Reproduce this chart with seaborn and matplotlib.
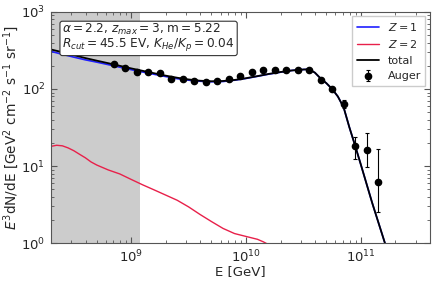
import numpy as np
import pandas as pd
import matplotlib
matplotlib.use("Agg")
import matplotlib.pyplot as plt
import seaborn as sns

# Model curves (log10 E [GeV], E^3 dN/dE)
logE_total = [8.30, 8.40, 8.50, 8.60, 8.70, 8.80, 8.90, 9.00, 9.10, 9.20, 9.30,
              9.40, 9.50, 9.60, 9.70, 9.80, 9.90, 10.00, 10.10, 10.20, 10.30,
              10.40, 10.50, 10.55, 10.60, 10.65, 10.70, 10.75, 10.80, 10.85,
              10.90, 10.95, 11.00, 11.10, 11.22]
total = [326, 300, 275, 252, 233, 216, 200, 185, 172, 160, 149,
         140, 133, 128, 126, 127, 131, 138, 147, 157, 166,
         174, 179, 180, 163, 137, 119, 100, 80, 58,
         32, 18.5, 10.5, 3.3, 0.9]
proton = [308, 282, 259, 239, 223, 207, 192, 178, 166, 155, 145,
          136, 130, 126, 124, 125, 130, 137, 146, 156, 165,
          174, 179, 180, 163, 137, 119, 100, 80, 58,
          32, 18.5, 10.5, 3.3, 0.9]

logE_he = [8.30, 8.35, 8.40, 8.45, 8.50, 8.55, 8.60, 8.65, 8.70, 8.80, 8.90,
           9.00, 9.10, 9.20, 9.30, 9.40, 9.50, 9.60, 9.70, 9.80, 9.90,
           10.00, 10.10, 10.15, 10.20, 10.25]
helium = [18.0, 18.6, 18.3, 17.2, 15.8, 14.2, 12.8, 11.3, 10.3, 8.9, 7.9,
          6.7, 5.7, 4.9, 4.2, 3.6, 2.95, 2.35, 1.9, 1.55, 1.33,
          1.22, 1.12, 1.04, 0.95, 0.7]

# Auger data points
logE_auger = [8.85, 8.95, 9.05, 9.15, 9.25, 9.35, 9.45, 9.55, 9.65, 9.75,
              9.85, 9.95, 10.05, 10.15, 10.25, 10.35, 10.45, 10.55, 10.65,
              10.75, 10.85, 10.95, 11.05, 11.15]
flux_auger = [211, 187, 166, 166, 161, 135, 135, 127, 123, 127,
              135, 148, 166, 177, 177, 177, 177, 178, 131,
              100, 64, 18.2, 16.2, 6.2]
err_lo = [3, 3, 3, 3, 3, 3, 3, 3, 3, 3,
          3, 3, 4, 4, 4, 5, 5, 6, 6,
          6, 7, 5.9, 6.5, 3.7]
err_hi = [3, 3, 3, 3, 3, 3, 3, 3, 3, 3,
          3, 3, 4, 4, 4, 5, 5, 6, 6,
          6, 8, 5.6, 10.6, 10.5]

sns.set_style("ticks")
plt.rcParams["font.family"] = ["DejaVu Sans"]
plt.rcParams["mathtext.fontset"] = "dejavusans"

fig = plt.figure(figsize=(4.36, 2.84), dpi=100)
ax = fig.add_axes([0.117, 0.144, 0.869, 0.814])

df_p = pd.DataFrame({"E": 10 ** np.array(logE_total), "F": proton})
df_t = pd.DataFrame({"E": 10 ** np.array(logE_total), "F": total})
df_he = pd.DataFrame({"E": 10 ** np.array(logE_he), "F": helium})

ax.axvspan(1e8, 1.2e9, color="#cccccc", lw=0, zorder=0)
sns.lineplot(data=df_p, x="E", y="F", ax=ax, color="#1f1fff", lw=1.2, label="$Z = 1$")
sns.lineplot(data=df_he, x="E", y="F", ax=ax, color="#e8204a", lw=1.0, label="$Z = 2$")
sns.lineplot(data=df_t, x="E", y="F", ax=ax, color="black", lw=1.3, label="total")
ax.errorbar(10 ** np.array(logE_auger), flux_auger, yerr=[err_lo, err_hi],
            fmt="o", color="black", ms=4.5, capsize=1.5, elinewidth=0.8,
            capthick=0.8, label="Auger", zorder=5)

ax.set_xscale("log")
ax.set_yscale("log")
ax.set_xlim(2e8, 4e11)
ax.set_ylim(1, 1e3)
ax.set_xlabel("E [GeV]", fontsize=9.5, labelpad=0)
ax.set_ylabel("$E^3$dN/dE [GeV$^2$ cm$^{-2}$ s$^{-1}$ sr$^{-1}$]", fontsize=9.8, labelpad=0)
ax.tick_params(which="both", direction="in", top=True, right=True, labelsize=9.5,
               color="#555555")
ax.tick_params(which="major", length=4, pad=4)
ax.tick_params(which="minor", length=2)
for s in ax.spines.values():
    s.set_color("#555555")

ax.text(0.03, 0.958,
        "$\\alpha = 2.2$, $z_{max} = 3$, m$ = 5.22$\n$R_{cut} = 45.5$ EV, $K_{He}/K_p = 0.04$",
        transform=ax.transAxes, va="top", ha="left", fontsize=8.7,
        linespacing=0.95,
        bbox=dict(boxstyle="round,pad=0.2", fc="white", ec="#333333", lw=0.8))

ax.legend(loc="upper right", fontsize=8, frameon=True, framealpha=1,
          edgecolor="#cccccc", fancybox=False, handlelength=2.0,
          borderaxespad=0.4)

fig.savefig("out.png", dpi=100)
